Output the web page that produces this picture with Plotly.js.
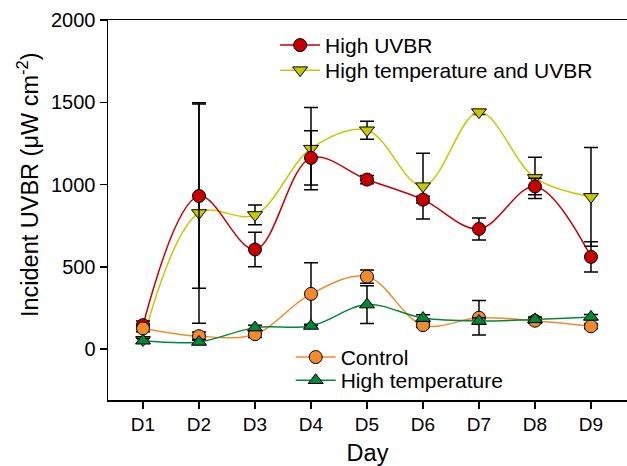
<!DOCTYPE html>
<html>
<head>
<meta charset="utf-8">
<script src="https://cdn.plot.ly/plotly-3.0.1.min.js"></script>
<style>html,body{margin:0;padding:0;background:#fff;}#chart{width:627px;height:466px;}</style>
</head>
<body>
<div id="chart"></div>
<script>
const days = ["D1","D2","D3","D4","D5","D6","D7","D8","D9"];

const highUVBR     = [145, 930, 605, 1162, 1030, 908, 730, 988, 560];
const highUVBRErr  = [25, 560, 105, 165, 25, 20, 67, 50, 92];

const highTempUVBR    = [55, 827, 815, 1218, 1330, 990, 1440, 1040, 925];
const highTempUVBRErr = [20, 670, 60, 250, 55, 200, 15, 125, 300];

const control    = [125, 78, 90, 335, 440, 145, 190, 172, 138];
const controlErr = [20, 25, 20, 190, 40, 15, 105, 15, 15];

const highTemp    = [50, 43, 130, 140, 270, 188, 170, 180, 195];
const highTempErr = [15, 15, 15, 10, 115, 20, 20, 15, 15];

function series(name, y, err, color, symbol, legend) {
  return {
    x: days, y: y, name: name, type: 'scatter', mode: 'lines+markers',
    line: {shape: 'spline', smoothing: 1, color: color, width: 1.5},
    marker: {symbol: symbol, size: 13, color: color, line: {color: '#000', width: 1}},
    error_y: {type: 'data', array: err, visible: true, color: '#000', thickness: 1.5, width: 7},
    legend: legend
  };
}

const data = [
  series('High temperature and UVBR', highTempUVBR, highTempUVBRErr, '#c8c800', 'triangle-down', 'legend2'),
  series('High UVBR', highUVBR, highUVBRErr, '#c40000', 'circle', 'legend'),
  series('Control', control, controlErr, '#f28a2e', 'circle', 'legend3'),
  series('High temperature', highTemp, highTempErr, '#00873a', 'triangle-up', 'legend4')
];

function leg(x, y) {
  return {x: x, y: y, xanchor: 'left', yanchor: 'top', bgcolor: 'rgba(0,0,0,0)',
          font: {size: 21}, itemwidth: 40, borderwidth: 0};
}

const layout = {
  width: 627, height: 466,
  margin: {l: 108, r: 0, t: 20, b: 66},
  paper_bgcolor: '#fff', plot_bgcolor: '#fff',
  font: {family: 'Liberation Sans, Arial, sans-serif', color: '#000', size: 19},
  showlegend: true,
  xaxis: {
    type: 'category', range: [-0.625, 8.643],
    showline: true, linecolor: '#000', linewidth: 1.5, mirror: true,
    ticks: 'outside', ticklen: 7, tickwidth: 1.5, tickcolor: '#000',
    showgrid: false, zeroline: false,
    tickfont: {size: 19},
    title: {text: 'Day', font: {size: 23.5}, standoff: 13}
  },
  yaxis: {
    range: [-310, 2000], tick0: 0, dtick: 500,
    showline: true, linecolor: '#000', linewidth: 1.5,
    ticks: 'outside', ticklen: 7, tickwidth: 1.5, tickcolor: '#000',
    showgrid: false, zeroline: false,
    tickfont: {size: 20}
  },
  annotations: [{
    text: 'Incident UVBR (μW cm<sup>-2</sup>)', textangle: -90,
    xref: 'paper', yref: 'y', x: -0.155, y: 1000, showarrow: false,
    font: {size: 23.5}, xanchor: 'center', yanchor: 'middle'
  }],
  legend:  leg(0.322, 0.987),
  legend2: leg(0.322, 0.921),
  legend3: leg(0.352, 0.166),
  legend4: leg(0.352, 0.105)
};

Plotly.newPlot('chart', data, layout, {displayModeBar: false, staticPlot: true});
</script>
</body>
</html>
